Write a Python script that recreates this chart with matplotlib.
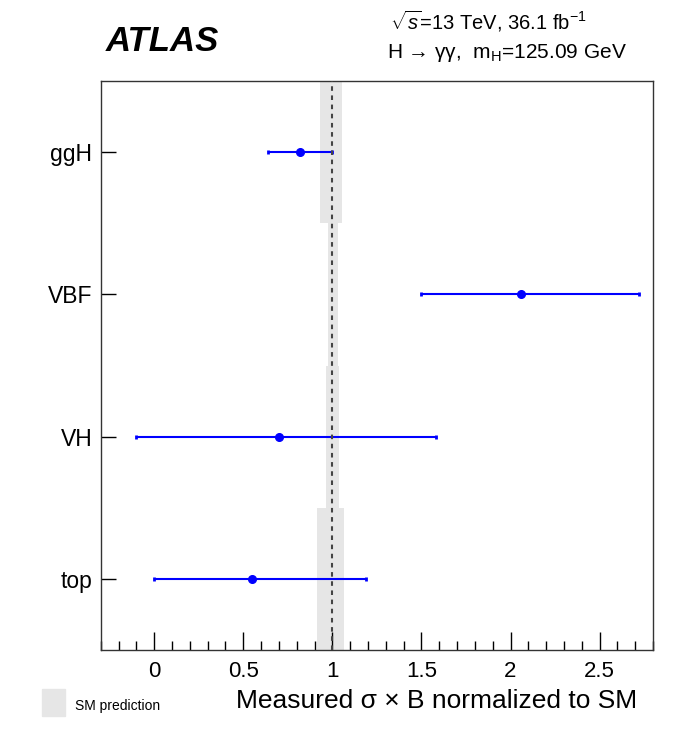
import numpy as np
import matplotlib.pyplot as plt
from matplotlib.patches import Rectangle
from matplotlib.ticker import MultipleLocator

plt.rcParams['font.family'] = ['Liberation Sans', 'DejaVu Sans']
plt.rcParams['mathtext.fontset'] = 'custom'
plt.rcParams['mathtext.rm'] = 'Liberation Sans'
plt.rcParams['mathtext.it'] = 'Liberation Sans:italic'

# measured signal strengths (normalized to SM)
categories = ['ggH', 'VBF', 'VH', 'top']
mu = [0.82, 2.06, 0.70, 0.55]
err_lo = [0.18, 0.56, 0.80, 0.55]
err_hi = [0.18, 0.66, 0.88, 0.64]

# SM prediction uncertainty bands
sm_lo = [0.933, 0.978, 0.966, 0.912]
sm_hi = [1.055, 1.032, 1.039, 1.066]

y = np.arange(len(categories)) + 0.5

fig = plt.figure(figsize=(6.81, 7.39), dpi=100)
ax = fig.add_axes([0.148, 0.1204, 0.811, 0.7700])

# SM bands
ax.barh(y, np.array(sm_hi) - np.array(sm_lo), left=sm_lo, height=1.0,
        color='#e6e6e6', edgecolor='none', zorder=1)
ax.axvline(1.0, color='#444444', ls=(0, (2.2, 2.2)), lw=1.5, zorder=4)

# measurements
ax.errorbar(mu, y, xerr=[err_lo, err_hi], fmt='o', color='blue', ms=5.5,
            lw=1.5, capsize=1.5, capthick=2, zorder=3)

ax.set_xlim(-0.3, 2.8)
ax.set_ylim(len(categories), 0)
ax.set_yticks(y)
ax.set_yticklabels(categories, fontsize=16.5)
ax.xaxis.set_minor_locator(MultipleLocator(0.1))
ax.set_xticks([0, 0.5, 1, 1.5, 2, 2.5])
ax.set_xticklabels(['0', '0.5', '1', '1.5', '2', '2.5'])
ax.tick_params(axis='x', which='major', direction='in', length=13, width=1,
               labelsize=16, pad=8, top=False)
ax.tick_params(axis='x', which='minor', direction='in', length=6.5, width=1,
               top=False)
ax.tick_params(axis='y', which='major', direction='in', length=11, width=1,
               pad=6, right=False)
for s in ax.spines.values():
    s.set_color('#333333')
    s.set_linewidth(1.0)

fig.text(637 / 681, 1 - 708 / 739, 'Measured σ × B normalized to SM',
         ha='right', va='baseline', fontsize=19)

# labels on top
fig.text(106 / 681, 1 - 51 / 739, 'ATLAS', fontsize=25, fontweight='bold',
         fontstyle='italic', va='baseline')
fig.text(390 / 681, 1 - 29 / 739, r'$\sqrt{s}$=13 TeV, 36.1 fb$^{-1}$',
         fontsize=14.5, va='baseline')
fig.text(387 / 681, 1 - 58 / 739, r'H → γγ,  m$_{\mathrm{H}}$=125.09 GeV',
         fontsize=15, va='baseline')

# legend
fig.add_artist(Rectangle((42 / 681, 1 - 716 / 739), 23 / 681, 27 / 739,
                         transform=fig.transFigure, color='#e6e6e6'))
fig.text(75 / 681, 1 - 710 / 739, 'SM prediction', fontsize=10, va='baseline')

fig.savefig('out.png', dpi=100)
